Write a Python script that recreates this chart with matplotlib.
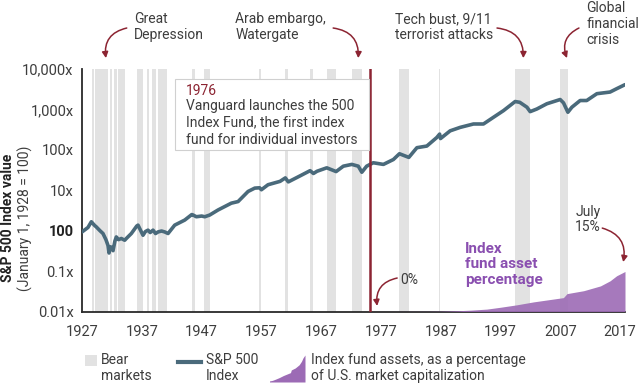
import matplotlib
matplotlib.use("Agg")
import matplotlib.pyplot as plt
from matplotlib.patches import Rectangle
from matplotlib.lines import Line2D

plt.rcParams["font.family"] = ["Roboto", "DejaVu Sans"]

# S&P 500 index, multiple of Jan 1 1928 value (1 = "100")
idx_years = [1927.0, 1928.0, 1928.56, 1929.1, 1929.39, 1930.0, 1930.51, 1931.0, 1931.35, 1931.52,
             1931.7, 1931.9, 1932.19, 1932.5, 1932.74, 1933.1, 1933.57, 1934.14, 1934.41, 1935.25,
             1936.15, 1936.37, 1937.2, 1937.6, 1938.04, 1938.4, 1938.88, 1939.3, 1939.71, 1940.3,
             1940.83, 1941.39, 1942.5, 1944.18, 1945.35, 1945.57, 1946.12, 1947.0, 1947.53, 1948.36,
             1949.75, 1951.97, 1953.1, 1954.77, 1955.89, 1956.7, 1957.0, 1958.11, 1960.12, 1961.0,
             1961.5, 1963.47, 1965.14, 1965.7, 1966.3, 1967.93, 1969.49, 1970.7, 1972.12, 1973.2,
             1973.79, 1974.6, 1975.7, 1977.4, 1979.07, 1980.08, 1981.65, 1983.0, 1984.66, 1986.33,
             1986.8, 1986.95, 1988.56, 1990.23, 1992.46, 1994.13, 1995.8, 1997.48, 1999.43, 2000.2,
             2001.4, 2001.94, 2003.06, 2004.73, 2006.96, 2007.52, 2008.25, 2008.92, 2010.3, 2011.4,
             2013.1, 2015.3, 2016.4, 2017.8]
idx_vals = [0.93, 1.2, 1.66, 1.35, 1.24, 1.0, 0.85, 0.6, 0.43, 0.28,
            0.4, 0.39, 0.32, 0.55, 0.7, 0.6, 0.64, 0.58, 0.64, 0.85,
            1.3, 1.37, 0.77, 0.95, 1.03, 0.9, 1.03, 0.85, 0.93, 0.98,
            0.93, 0.85, 1.37, 1.83, 2.5, 2.44, 2.21, 2.3, 2.21, 2.44,
            3.25, 4.79, 5.25, 9.33, 11.3, 11.5, 10.3, 13.7, 16.6, 20.2,
            16.1, 22.7, 30.5, 26.0, 29.5, 35.9, 29.0, 39.4, 43.6, 39.4,
            27.9, 39.4, 47.9, 43.6, 57.6, 80.0, 65.0, 113, 124, 202,
            245, 190, 295, 359, 436, 436, 638, 933, 1567, 1500,
            1135, 881, 1024, 1380, 1758, 1450, 851, 1135, 1660, 1660,
            2450, 2690, 3250, 4100]

# index fund assets as % of U.S. market cap
pct_years = [1975.9, 1980, 1985, 1987, 1990, 1992, 1994.7, 1997, 1999.7, 2002.5,
             2005, 2007.5, 2008.1, 2010.9, 2013.7, 2015.3, 2016.4, 2017.8]
pct_vals = [0, 0.02, 0.05, 0.1, 0.3, 0.5, 0.9, 1.6, 2.5, 3.6,
            4.4, 5.2, 6.7, 7.8, 9.6, 11.5, 13.4, 15]

bear_start = [1928.72, 1929.17, 1931.68, 1932.40, 1933.07, 1936.15, 1937.82, 1938.66, 1939.76, 1945.35,
              1947.41, 1956.66, 1961.01, 1965.14, 1967.93, 1972.12, 1980.08, 1986.77, 1999.43, 2006.96]
bear_end = [1929.06, 1931.40, 1932.07, 1932.80, 1934.14, 1937.15, 1938.21, 1939.33, 1941.27, 1945.90,
            1948.41, 1956.99, 1961.51, 1965.69, 1969.49, 1973.79, 1981.65, 1986.94, 2001.94, 2008.25]

x_ticks = [1927, 1937, 1947, 1957, 1967, 1977, 1987, 1997, 2007, 2017]
y_ticks = [0.01, 0.1, 1, 10, 100, 1000, 10000]
y_labels = ["0.01x", "0.1x", "100", "10x", "100x", "1,000x", "10,000x"]

txt = "#3d3d3d"
red = "#8c2432"
band = "#e2e2e2"
line_c = "#4a6a7b"
purple = "#9c6bb5"

W, H = 638, 386
fig = plt.figure(figsize=(W / 100, H / 100), dpi=100)
ax = fig.add_axes([82 / W, 1 - 311.5 / H, 543 / W, 242.5 / H])

for s, e in zip(bear_start, bear_end):
    ax.axvspan(s, e, color=band, lw=0, zorder=0)

ax.plot(idx_years, idx_vals, color=line_c, lw=2.6, zorder=3, solid_capstyle="round")
ax.set_yscale("log")
ax.set_ylim(0.01, 10000)
ax.set_xlim(1927, 2017.8)
ax.set_xticks(x_ticks)
ax.set_yticks(y_ticks)
ax.set_yticklabels(y_labels)
ax.minorticks_off()
ax.tick_params(length=0, labelsize=10.5, colors=txt, pad=6)
ax.tick_params(axis="x", pad=10)
ax.get_yticklabels()[2].set_fontweight("bold")
ax.get_yticklabels()[2].set_color("#222222")
for sp in ["top", "right"]:
    ax.spines[sp].set_visible(False)
for sp in ["left", "bottom"]:
    ax.spines[sp].set_color("#2a2a2a")
    ax.spines[sp].set_linewidth(1.3)
ax.spines["bottom"].set_zorder(6)

ax2 = ax.twinx()
ax2.fill_between(pct_years, pct_vals, color=purple, alpha=0.9, lw=0, zorder=2)
ax2.set_ylim(0, 15 * 242.5 / 40)
ax2.set_xlim(1927, 2017.8)
ax2.axis("off")

ax2.axvline(1975.2, color=red, lw=1.8, zorder=5)

# text box
fig.patches.append(Rectangle((175 / W, 1 - 150 / H), (369 - 175) / W, 71 / H,
                             transform=fig.transFigure, facecolor="white",
                             edgecolor="#d0d0d0", lw=0.8, zorder=4))
fig.text(186 / W, 1 - 84 / H, "1976", color=red, fontsize=10, va="top", zorder=5)
fig.text(186 / W, 1 - 99 / H, "Vanguard launches the 500\nIndex Fund, the first index\nfund for individual investors",
         color=txt, fontsize=10, va="top", linespacing=1.25, zorder=5)

bt = ax.get_xaxis_transform()
aprops = dict(arrowstyle="-|>,head_length=0.35,head_width=0.18", color=red, lw=1.1, shrinkA=0, shrinkB=0)

def note(text, tx, ty, ax_, ay_, bx, by, rad):
    ax.text(tx, ty, text, transform=bt, fontsize=10, color=txt, va="top", linespacing=1.2, clip_on=False)
    ax.annotate("", xy=(bx, by), xytext=(ax_, ay_), xycoords=bt, textcoords=bt,
                arrowprops=dict(aprops, connectionstyle="arc3,rad=%s" % rad), annotation_clip=False)

note("Great\nDepression", 1935.7, 1.235, 1934.48, 1.169, 1931.0, 1.045, 0.45)
note("Arab embargo,\nWatergate", 1952.6, 1.235, 1969.0, 1.169, 1973.2, 1.045, -0.45)
note("Tech bust, 9/11\nterrorist attacks", 1979.4, 1.235, 1996.4, 1.169, 2000.8, 1.045, -0.45)
note("Global\nfinancial\ncrisis", 2011.3, 1.28, 2010.1, 1.169, 2008.1, 1.045, 0.45)

ax.text(2009.5, 0.44, "July\n15%", transform=bt, fontsize=10, color=txt, va="top", linespacing=1.15)
ax.annotate("", xy=(2017.5, 0.204), xytext=(2014.0, 0.344), xycoords=bt, textcoords=bt,
            arrowprops=dict(aprops, connectionstyle="arc3,rad=-0.45"), annotation_clip=False)
ax.text(1980.3, 0.13, "0%", transform=bt, fontsize=10, color=txt, va="center")
ax.annotate("", xy=(1976.35, 0.023), xytext=(1979.7, 0.138), xycoords=bt, textcoords=bt,
            arrowprops=dict(aprops, connectionstyle="arc3,rad=0.45"), annotation_clip=False)
ax.text(1991.1, 0.285, "Index\nfund asset\npercentage", transform=bt, fontsize=11, color="#8a4fb0",
        fontweight="bold", va="top", linespacing=1.1)

# y label
fig.text(8 / W, 1 - 218 / H, "S&P 500 Index value", rotation=90, fontsize=10, fontweight="bold",
         color="#222222", ha="center", va="center")
fig.text(25 / W, 1 - 218 / H, "(January 1, 1928 = 100)", rotation=90, fontsize=10,
         color=txt, ha="center", va="center")

# legend
fig.patches.append(Rectangle((85 / W, 1 - 366 / H), 12 / W, 11 / H, transform=fig.transFigure,
                             facecolor=band, edgecolor="none"))
fig.text(101 / W, 1 - 353 / H, "Bear\nmarkets", fontsize=10, color=txt, va="top", linespacing=1.15)
fig.lines.append(Line2D([178 / W, 201 / W], [1 - 362 / H, 1 - 362 / H], transform=fig.transFigure,
                        color=line_c, lw=3))
fig.text(206 / W, 1 - 353 / H, "S&P 500\nIndex", fontsize=10, color=txt, va="top", linespacing=1.15)
lax = fig.add_axes([270 / W, 1 - 382 / H, 35 / W, 27 / H])
lax.fill_between(pct_years, pct_vals, color=purple, lw=0)
lax.set_xlim(1993, 2017.8)
lax.set_ylim(0, 15)
lax.axis("off")
fig.text(311 / W, 1 - 353 / H, "Index fund assets, as a percentage\nof U.S. market capitalization",
         fontsize=10, color=txt, va="top", linespacing=1.15)

fig.savefig("out.png", dpi=100)
